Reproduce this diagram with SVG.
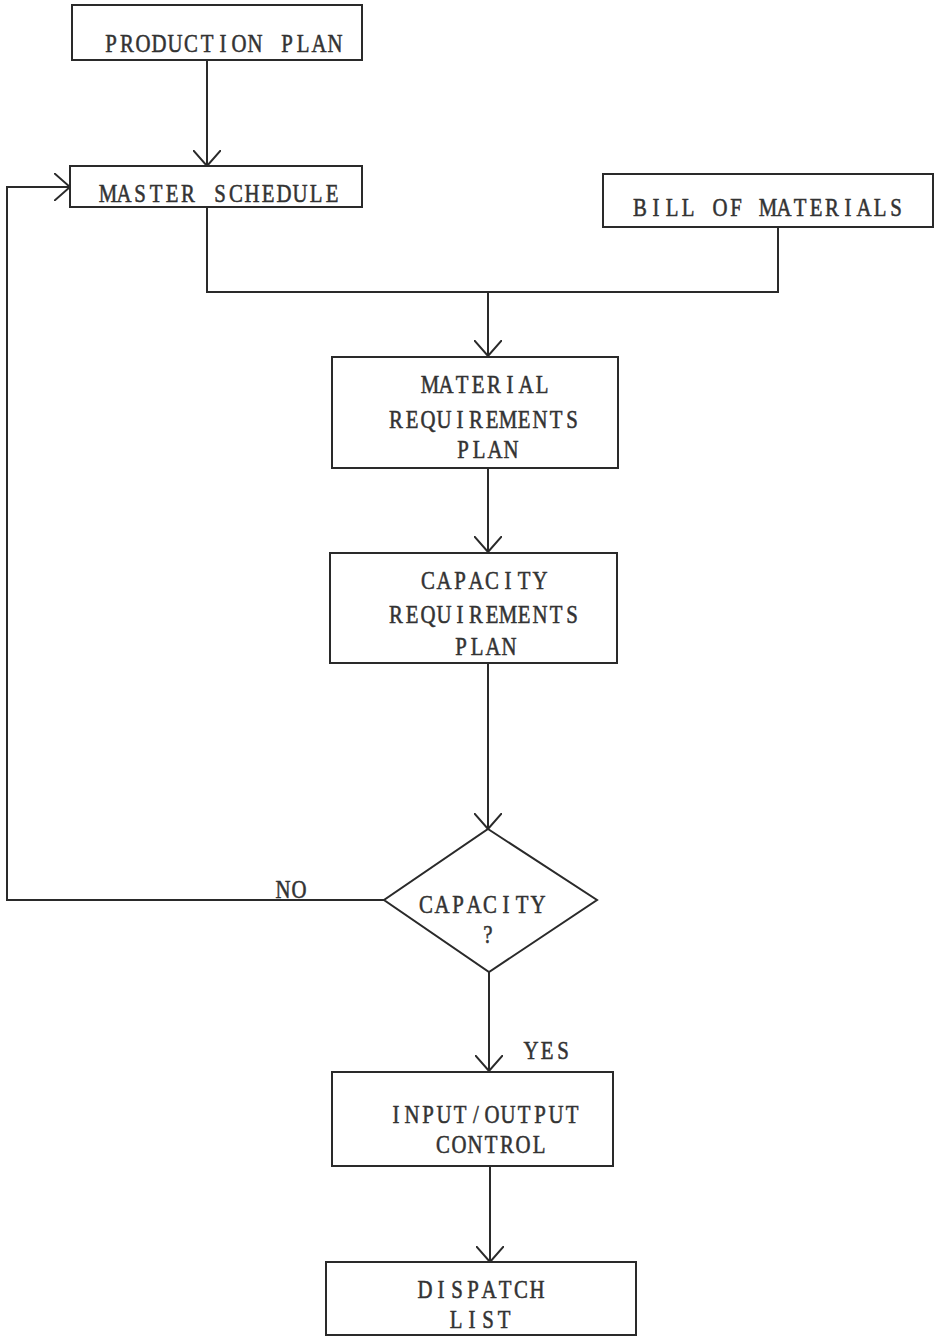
<svg xmlns="http://www.w3.org/2000/svg" width="935" height="1338" viewBox="0 0 935 1338">
  <style>
    .box { fill: none; stroke: #2a2a2a; stroke-width: 2; }
    .wire { fill: none; stroke: #2a2a2a; stroke-width: 2; }
    /* typewriter look: each glyph centred in a fixed 16px cell, glyphs narrowed to 80% */
    .lbl { font-family: "Liberation Serif", "Times New Roman", serif; font-size: 26px; fill: #333; stroke: #333; stroke-width: 0.55; text-anchor: middle; }
  </style>
  <defs>
    <marker id="vee" viewBox="0 0 16 28" refX="16" refY="14" markerWidth="16" markerHeight="28" markerUnits="userSpaceOnUse" orient="auto">
      <path d="M0,0 L16,14 L0,28" fill="none" stroke="#2a2a2a" stroke-width="2"/>
    </marker>
  </defs>

  <rect width="935" height="1338" fill="#ffffff"/>

  <g id="connectors">
    <!-- production plan to master schedule -->
    <line class="wire" x1="207" y1="60" x2="207" y2="166" marker-end="url(#vee)"/>
    <!-- master schedule and bill of materials merge -->
    <polyline class="wire" points="207,207 207,292 778,292 778,227"/>
    <line class="wire" x1="488" y1="292" x2="488" y2="356" marker-end="url(#vee)"/>
    <!-- MRP to CRP -->
    <line class="wire" x1="488" y1="468" x2="488" y2="552" marker-end="url(#vee)"/>
    <!-- CRP to decision -->
    <line class="wire" x1="488" y1="663" x2="488" y2="829" marker-end="url(#vee)"/>
    <!-- NO branch back to master schedule -->
    <polyline class="wire" points="384,900 7,900 7,187 70,187" marker-end="url(#vee)"/>
    <!-- YES branch -->
    <line class="wire" x1="489" y1="972" x2="489" y2="1071" marker-end="url(#vee)"/>
    <!-- I/O control to dispatch list -->
    <line class="wire" x1="490" y1="1166" x2="490" y2="1262" marker-end="url(#vee)"/>
    <text class="lbl" transform="scale(0.8,1)" x="353.75 373.75" y="898">NO</text>
    <text class="lbl" transform="scale(0.8,1)" x="663.75 683.75 703.75" y="1059">YES</text>
  </g>

  <g id="production-plan">
    <rect class="box" x="72" y="5" width="290" height="55"/>
    <text class="lbl" transform="scale(0.8,1)" y="52" x="138.75 158.75 178.75 198.75 218.75 238.75 258.75 278.75 298.75 318.75 338.75 358.75 378.75 398.75 418.75">PRODUCTION PLAN</text>
  </g>

  <g id="master-schedule">
    <rect class="box" x="70" y="166" width="292" height="41"/>
    <text class="lbl" transform="scale(0.8,1)" y="202" x="135 155 175 195 215 235 255 275 295 315 335 355 375 395 415">MASTER SCHEDULE</text>
  </g>

  <g id="bill-of-materials">
    <rect class="box" x="603" y="174" width="330" height="53"/>
    <text class="lbl" transform="scale(0.8,1)" y="216" x="800 820 840 860 880 900 920 940 960 980 1000 1020 1040 1060 1080 1100 1120">BILL OF MATERIALS</text>
  </g>

  <g id="material-requirements-plan">
    <rect class="box" x="332" y="357" width="286" height="111"/>
    <text class="lbl" transform="scale(0.8,1)" y="393" x="537.5 557.5 577.5 597.5 617.5 637.5 657.5 677.5">MATERIAL</text>
    <text class="lbl" transform="scale(0.8,1)" y="428" x="495 515 535 555 575 595 615 635 655 675 695 715">REQUIREMENTS</text>
    <text class="lbl" transform="scale(0.8,1)" y="458" x="578.75 598.75 618.75 638.75">PLAN</text>
  </g>

  <g id="capacity-requirements-plan">
    <rect class="box" x="330" y="553" width="287" height="110"/>
    <text class="lbl" transform="scale(0.8,1)" y="589" x="535 555 575 595 615 635 655 675">CAPACITY</text>
    <text class="lbl" transform="scale(0.8,1)" y="623" x="495 515 535 555 575 595 615 635 655 675 695 715">REQUIREMENTS</text>
    <text class="lbl" transform="scale(0.8,1)" y="655" x="576.25 596.25 616.25 636.25">PLAN</text>
  </g>

  <g id="capacity-decision">
    <polygon class="box" points="488,829 597,900 489,972 384,900"/>
    <text class="lbl" transform="scale(0.8,1)" y="913" x="532.5 552.5 572.5 592.5 612.5 632.5 652.5 672.5">CAPACITY</text>
    <text class="lbl" transform="scale(0.8,1)" y="943" x="610">?</text>
  </g>

  <g id="input-output-control">
    <rect class="box" x="332" y="1072" width="281" height="94"/>
    <text class="lbl" transform="scale(0.8,1)" y="1123" x="495 515 535 555 575 595 615 635 655 675 695 715">INPUT/OUTPUT</text>
    <text class="lbl" transform="scale(0.8,1)" y="1153" x="553.75 573.75 593.75 613.75 633.75 653.75 673.75">CONTROL</text>
  </g>

  <g id="dispatch-list">
    <rect class="box" x="326" y="1262" width="310" height="73"/>
    <text class="lbl" transform="scale(0.8,1)" y="1298" x="531.25 551.25 571.25 591.25 611.25 631.25 651.25 671.25">DISPATCH</text>
    <text class="lbl" transform="scale(0.8,1)" y="1328" x="570 590 610 630">LIST</text>
  </g>
</svg>
